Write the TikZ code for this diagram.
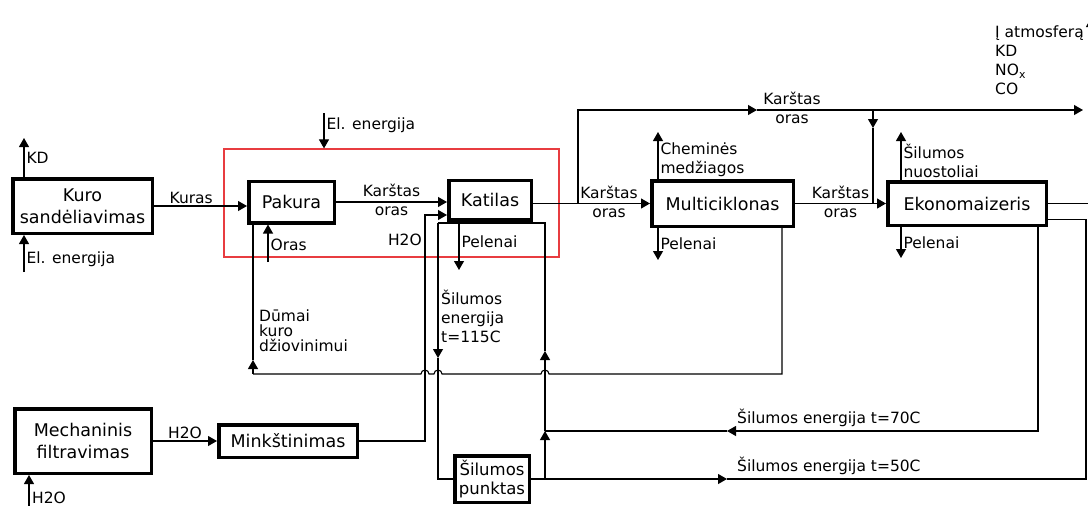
\documentclass[tikz,border=0pt]{standalone}
\usepackage{fontspec}
\setmainfont{DejaVu Sans}
\usetikzlibrary{positioning, arrows.meta}

\definecolor{zonered}{RGB}{232,60,64}

\begin{document}
\begin{tikzpicture}[
    x=1pt, y=-1pt,
    >={Triangle[length=9pt, width=10pt]},
    box/.style={draw, rectangle, line width=3.5pt, align=center, inner sep=0pt, font=\fontsize{17.5}{22}\selectfont},
    lbl/.style={inner sep=2pt, align=left, font=\fontsize{15.5}{19}\selectfont},
    arrow/.style={->, line width=1.1pt},
    flow/.style={line width=1.1pt},
    zone/.style={draw=zonered, line width=1.2pt, minimum width=335pt, minimum height=108pt}
]
\useasboundingbox (0,0) rectangle (1088,506);
\clip (0,0) rectangle (1088,506);

% Nodes
\node[zone] (plant) at (391.5,203) {};
\node[box, minimum width=139.5pt, minimum height=54.5pt] (kuro) at (82.5,206) {Kuro\\sandėliavimas};
\node[box, minimum width=85.5pt, minimum height=41.5pt] (pakura) at (291.5,202) {Pakura};
\node[box, minimum width=82.5pt, minimum height=39.5pt] (katilas) at (490,200) {Katilas};
\node[box, minimum width=141.5pt, minimum height=45.5pt] (multi) at (722.5,203.5) {Multiciklonas};
\node[box, minimum width=158.5pt, minimum height=43.5pt] (eko) at (967,203.5) {Ekonomaizeris};
\node[box, minimum width=136.5pt, minimum height=64.5pt] (mech) at (83,441) {Mechaninis\\filtravimas};
\node[box, minimum width=138.5pt, minimum height=32.5pt] (mink) at (288,441) {Minkštinimas};
\node[box, minimum width=74.5pt, minimum height=46.5pt, font=\fontsize{16.5}{19}\selectfont] (punktas) at (492,479) {Šilumos\\punktas};

% Free ends and corners
\coordinate (kdT) at (24,138);
\coordinate (elK) at (24,272);
\coordinate (elP) at (324,113);
\coordinate (orasB) at (268,262);
\coordinate (h2oB) at (29,506);
\coordinate (h2oC) at (425,441);
\coordinate (pelK) at (459,270);
\coordinate (brK) at (578,203.5);
\coordinate (topL) at (578,110);
\coordinate (topA) at (757,110);
\coordinate (topJ) at (873,110);
\coordinate (topR) at (1083,110);
\coordinate (ekoA) at (873,128);
\coordinate (chemT) at (658,132);
\coordinate (pelM) at (658,260);
\coordinate (nuoT) at (901,132);
\coordinate (pelE) at (901,258);
\coordinate (outR) at (1091,203.5);
\coordinate (outT) at (1091,18);
\coordinate (dmR) at (782,374);
\coordinate (hop3) at (549,374);
\coordinate (dmL) at (253,374);
\coordinate (dmA) at (253,360);
\coordinate (loopL) at (438,223);
\coordinate (loopR) at (545,223);
\coordinate (loopD) at (438,358);
\coordinate (loopU) at (545,351);
\coordinate (j70) at (545,431);
\coordinate (j50) at (545,479);
\coordinate (a70) at (727,431);
\coordinate (a50) at (727,479);
\coordinate (r50) at (1086,479);

% Kuro sandeliavimas
\draw[arrow] (kdT |- kuro.north) -- (kdT) node[lbl, midway, right] {KD};
\draw[arrow] (elK) -- (elK |- kuro.south) node[lbl, pos=0.35, right] {El. energija};
\draw[arrow] (kuro.east) -- (kuro.east -| pakura.west) node[lbl, pos=0.4, above] {Kuras};

% Pakura ir katilas
\draw[arrow] (elP) -- (elP |- plant.north) node[lbl, pos=0.35, right] {El. energija};
\draw[arrow] (pakura.east) -- (pakura.east -| katilas.west) node[lbl, midway, align=center, yshift=2pt] {Karštas\\oras};
\draw[arrow] (orasB) -- (orasB |- pakura.south) node[lbl, pos=0.45, right] {Oras};
\draw[arrow] (pelK |- katilas.south) -- (pelK) node[lbl, pos=0.42, right] {Pelenai};

% Vanduo
\draw[arrow] (h2oB) -- (h2oB |- mech.south);
\node[lbl, anchor=south west] (h2oIn) at (30,506) {H2O};
\draw[arrow] (mech) -- (mink) node[lbl, midway, above] {H2O};
\draw[arrow] (mink.east) -- (h2oC) |- ([yshift=-15pt]katilas.west);
\node[lbl, anchor=east] (h2oLbl) at (424,240) {H2O};

% Karstas oras
\draw[arrow] (katilas.east |- multi.west) -- (multi.west) node[lbl, pos=0.65, align=center, yshift=2pt] {Karštas\\oras};
\draw[arrow] (brK) -- (topL) -- (topA);
\draw[arrow] (topA) -- (topR);
\node[lbl, align=center, yshift=2pt] (topLbl) at (792,110) {Karštas\\oras};
\draw[arrow] (topJ) -- (ekoA);
\draw[flow] (ekoA) -- (ekoA |- eko.west);
\draw[arrow] (multi.east) -- (eko.west) node[lbl, midway, align=center, yshift=2pt] {Karštas\\oras};

% Multiciklonas
\draw[arrow] (chemT |- multi.north) -- (chemT) node[lbl, pos=0.4, right] {Cheminės\\medžiagos};
\draw[arrow] (pelM |- multi.south) -- (pelM) node[lbl, midway, right] {Pelenai};

% Ekonomaizeris
\draw[arrow] (nuoT |- eko.north) -- (nuoT) node[lbl, pos=0.4, right] {Šilumos\\nuostoliai};
\draw[arrow] (pelE |- eko.south) -- (pelE) node[lbl, midway, right] {Pelenai};
\draw[arrow] (eko.east) -- (outR) -- (outT);
\node[lbl, anchor=north west] (atm) at (993,24) {Į atmosferą\\KD\\NO\textsubscript{x}\\CO};

% Dumai
\draw[flow] ([xshift=-13pt]multi.south east) -- (dmR) -- (hop3)
    arc[start angle=0, end angle=180, radius=4pt] -- ++(-99,0)
    arc[start angle=0, end angle=180, radius=4pt] -- ++(-5,0)
    arc[start angle=0, end angle=180, radius=4pt] -- (dmL);
\draw[arrow] (dmL) -- (dmA);
\draw[flow] (dmA) -- (dmA |- pakura.south);
\node[lbl, anchor=north west, font=\fontsize{15.5}{15}\selectfont] (dumLbl) at (257,308) {Dūmai\\kuro\\džiovinimui};

% Silumos punktas
\draw[arrow] (j50) -- (j70);
\draw[arrow] (j70) -- (loopU);
\draw[flow] (loopU) -- (loopR) -- (loopL);
\draw[arrow] (loopL) -- (loopD);
\draw[flow] (loopD) |- (punktas.west);
\node[lbl, anchor=north west] (t115) at (439,288) {Šilumos\\energija\\t=115C};
\draw[arrow] (punktas.east) -- (a50);
\draw[flow] (a50) -- (r50) |- ([yshift=-16pt]eko.east);
\node[lbl, anchor=south west] (t50) at (735,477) {Šilumos energija t=50C};
\draw[arrow] ([xshift=-10pt]eko.south east) |- (a70);
\draw[flow] (a70) -- (j70);
\node[lbl, anchor=south west] (t70) at (735,429) {Šilumos energija t=70C};
\end{tikzpicture}
\end{document}
